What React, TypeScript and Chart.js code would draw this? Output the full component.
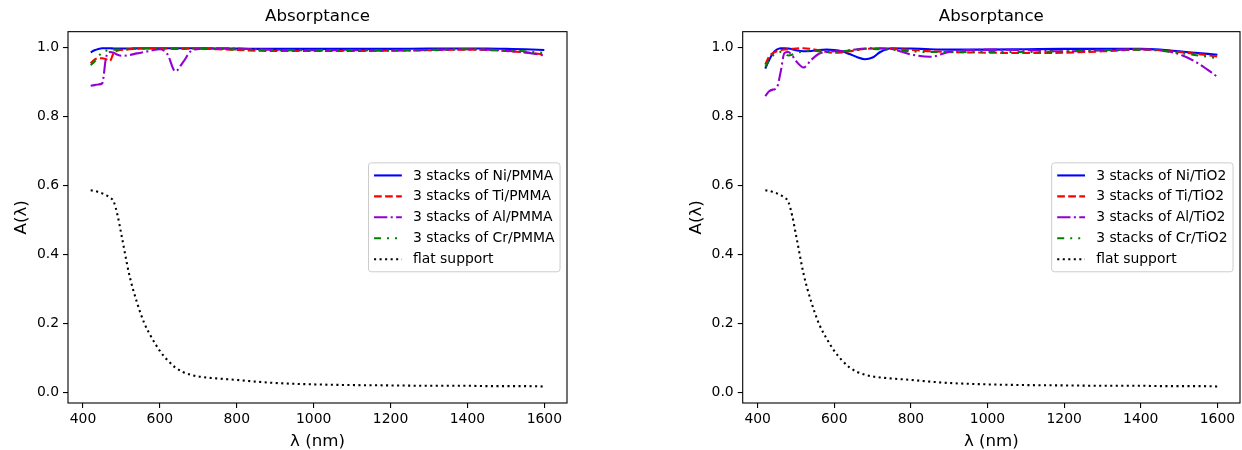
import React, { useEffect, useRef } from "react";
import { Chart, registerables } from "chart.js";

Chart.register(...registerables);

// ---------- data ----------
const wavelengths = [420, 430, 440, 450, 460, 470, 480, 490, 500, 520, 540, 560, 580, 600, 620, 640, 660, 680, 700, 720, 750, 800, 850, 900, 1000, 1100, 1200, 1300, 1400, 1450, 1500, 1550, 1600];

const flatSupport = [0.587, 0.585, 0.582, 0.578, 0.573, 0.566, 0.554, 0.514, 0.458, 0.344, 0.263, 0.2, 0.157, 0.121, 0.094, 0.073, 0.06, 0.052, 0.047, 0.044, 0.041, 0.037, 0.032, 0.028, 0.024, 0.022, 0.021, 0.02, 0.02, 0.019, 0.019, 0.019, 0.018];

const niPmma = [0.987, 0.993, 0.997, 0.999, 0.999, 0.999, 0.998, 0.998, 0.998, 0.998, 0.999, 0.999, 0.999, 0.999, 0.999, 0.999, 0.999, 0.999, 0.999, 0.999, 0.998, 0.998, 0.997, 0.997, 0.997, 0.997, 0.997, 0.998, 0.998, 0.998, 0.997, 0.996, 0.994];
const tiPmma = [0.955, 0.966, 0.97, 0.97, 0.967, 0.962, 0.986, 0.992, 0.994, 0.996, 0.997, 0.998, 0.998, 0.998, 0.998, 0.997, 0.997, 0.998, 0.998, 0.997, 0.996, 0.994, 0.992, 0.991, 0.991, 0.991, 0.992, 0.993, 0.995, 0.994, 0.991, 0.987, 0.981];
const alPmma = [0.89, 0.892, 0.894, 0.897, 0.972, 0.988, 0.986, 0.98, 0.977, 0.979, 0.984, 0.988, 0.993, 0.996, 0.981, 0.932, 0.958, 0.99, 0.997, 0.999, 0.999, 0.998, 0.996, 0.994, 0.993, 0.993, 0.992, 0.994, 0.996, 0.995, 0.992, 0.987, 0.978];
const crPmma = [0.95, 0.96, 0.975, 0.988, 0.992, 0.994, 0.995, 0.995, 0.995, 0.996, 0.997, 0.998, 0.998, 0.998, 0.998, 0.998, 0.998, 0.998, 0.998, 0.997, 0.997, 0.995, 0.994, 0.993, 0.993, 0.993, 0.993, 0.994, 0.996, 0.995, 0.993, 0.99, 0.985];

const niTio2 = [0.94, 0.965, 0.985, 0.995, 0.999, 0.999, 0.998, 0.996, 0.993, 0.99, 0.991, 0.994, 0.995, 0.994, 0.99, 0.982, 0.973, 0.967, 0.972, 0.988, 0.999, 0.998, 0.996, 0.995, 0.995, 0.996, 0.997, 0.997, 0.997, 0.995, 0.99, 0.985, 0.98];
const tiTio2 = [0.952, 0.975, 0.985, 0.99, 0.993, 0.995, 0.996, 0.997, 0.998, 0.999, 0.997, 0.993, 0.988, 0.986, 0.987, 0.99, 0.994, 0.997, 0.998, 0.998, 0.997, 0.994, 0.99, 0.988, 0.986, 0.985, 0.986, 0.99, 0.995, 0.993, 0.988, 0.982, 0.975];
const alTio2 = [0.86, 0.874, 0.879, 0.884, 0.93, 0.985, 0.988, 0.978, 0.962, 0.943, 0.965, 0.983, 0.988, 0.99, 0.99, 0.993, 0.996, 0.998, 0.999, 0.999, 0.997, 0.981, 0.974, 0.988, 0.995, 0.993, 0.99, 0.993, 0.996, 0.993, 0.982, 0.955, 0.916];
const crTio2 = [0.945, 0.965, 0.978, 0.985, 0.988, 0.985, 0.978, 0.98, 0.985, 0.99, 0.992, 0.99, 0.988, 0.988, 0.99, 0.992, 0.995, 0.997, 0.997, 0.996, 0.995, 0.99, 0.988, 0.988, 0.988, 0.988, 0.99, 0.993, 0.995, 0.992, 0.985, 0.978, 0.97];

const labelsPmma = ["3 stacks of Ni/PMMA", "3 stacks of Ti/PMMA", "3 stacks of Al/PMMA", "3 stacks of Cr/PMMA", "flat support"];
const labelsTio2 = ["3 stacks of Ni/TiO2", "3 stacks of Ti/TiO2", "3 stacks of Al/TiO2", "3 stacks of Cr/TiO2", "flat support"];

const xTicks = [400, 600, 800, 1000, 1200, 1400, 1600];
const yTicks = [0.0, 0.2, 0.4, 0.6, 0.8, 1.0];

const chartTitle = "Absorptance";
const xLabel = "λ (nm)";
const yLabel = "A(λ)";

// ---------- styles ----------
const FONT = "'DejaVu Sans', 'Liberation Sans', sans-serif";
const LW = 2.08;
const lineColors = ["#0000ff", "#ff0000", "#9400d3", "#008000", "#000000"];
const lineDashes: number[][] = [[], [7.7, 3.33], [13.3, 3.33, 2.08, 3.33], [7, 6, 2, 6, 2, 6], [2.08, 3.44]];

const frameAndLegend = {
  id: "frameAndLegend",
  afterDatasetsDraw(chart: any) {
    const ctx = chart.ctx as CanvasRenderingContext2D;
    const area = chart.chartArea;
    ctx.save();
    // frame (spines)
    ctx.strokeStyle = "#000";
    ctx.lineWidth = 1.1;
    ctx.setLineDash([]);
    ctx.strokeRect(area.left, area.top, area.right - area.left, area.bottom - area.top);

    // legend
    const fs = 13.9;
    ctx.font = `${fs}px ${FONT}`;
    const ds = chart.data.datasets;
    const pad = 0.4 * fs;
    const handle = 2 * fs;
    const htp = 0.8 * fs;
    const spacing = 0.5 * fs;
    const rowH = 14.0;
    const maxW = Math.max(...ds.map((d: any) => ctx.measureText(d.label).width));
    const w = 2 * pad + handle + htp + maxW;
    const h = 2 * pad + ds.length * rowH + (ds.length - 1) * spacing;
    const right = area.right - 0.5 * fs;
    const left = right - w;
    const top = (area.top + area.bottom) / 2 - h / 2;
    ctx.beginPath();
    (ctx as any).roundRect(left, top, w, h, 2.8);
    ctx.fillStyle = "rgba(255,255,255,0.8)";
    ctx.fill();
    ctx.strokeStyle = "#cccccc";
    ctx.lineWidth = 1;
    ctx.stroke();
    ds.forEach((d: any, i: number) => {
      const cy = top + pad + i * (rowH + spacing) + rowH / 2;
      ctx.beginPath();
      ctx.setLineDash(d.borderDash || []);
      ctx.strokeStyle = d.borderColor;
      ctx.lineWidth = d.borderWidth;
      ctx.lineCap = "butt";
      ctx.moveTo(left + pad, cy);
      ctx.lineTo(left + pad + handle, cy);
      ctx.stroke();
      ctx.setLineDash([]);
      ctx.fillStyle = "#000";
      ctx.textBaseline = "middle";
      ctx.textAlign = "left";
      ctx.fillText(d.label, left + pad + handle + htp, cy + 0.5);
    });
    ctx.restore();
  },
};

function AbsorptanceChart(props: { series: number[][]; labels: string[]; padLeft: number; padRight: number }) {
  const ref = useRef<HTMLCanvasElement>(null);
  useEffect(() => {
    const n = props.series.length;
    const datasets = props.series.map((s, i) => ({
      label: props.labels[i],
      data: wavelengths.map((x, j) => ({ x, y: s[j] })),
      borderColor: lineColors[i],
      backgroundColor: lineColors[i],
      borderWidth: LW,
      borderDash: lineDashes[i],
      pointRadius: 0,
      fill: false,
      cubicInterpolationMode: "monotone" as const,
      order: n - i,
    }));
    const tickFont = { family: FONT, size: 13.9 };
    const labelFont = { family: FONT, size: 16.67, lineHeight: 1.0 };
    const chart = new Chart(ref.current as HTMLCanvasElement, {
      type: "line",
      data: { datasets },
      options: {
        animation: false,
        responsive: false,
        devicePixelRatio: 1,
        layout: { padding: { left: props.padLeft, right: props.padRight, top: 0, bottom: 0 } },
        plugins: {
          legend: { display: false },
          tooltip: { enabled: false },
          title: {
            display: true,
            text: chartTitle,
            color: "#000",
            fullSize: false,
            font: { family: FONT, size: 16.67, weight: "normal", lineHeight: 1.2 },
            padding: { top: 7, bottom: 4.66 },
          },
        },
        scales: {
          x: {
            type: "linear",
            min: 361,
            max: 1659,
            border: { display: false },
            grid: { drawOnChartArea: false, drawTicks: true, tickLength: 5, tickColor: "#000", lineWidth: 1.1 },
            ticks: { color: "#000", font: tickFont, padding: 3, maxRotation: 0, autoSkip: false, callback: (v: any) => String(v) },
            afterBuildTicks: (scale: any) => {
              scale.ticks = xTicks.map((v) => ({ value: v }));
            },
            afterFit: (scale: any) => {
              scale.height = 47;
            },
            title: { display: true, text: xLabel, color: "#000", font: labelFont, padding: { top: 0.7, bottom: 0 } },
          },
          y: {
            type: "linear",
            min: -0.03,
            max: 1.047,
            border: { display: false },
            grid: { drawOnChartArea: false, drawTicks: true, tickLength: 5, tickColor: "#000", lineWidth: 1.1 },
            ticks: {
              color: "#000",
              font: tickFont,
              padding: 4,
              autoSkip: false,
              callback: (v: any) => Number(v).toFixed(1),
            },
            afterBuildTicks: (scale: any) => {
              scale.ticks = yTicks.map((v) => ({ value: v }));
            },
            afterFit: (scale: any) => {
              scale.width = 68;
            },
            title: { display: true, text: yLabel, color: "#000", font: { family: FONT, size: 16.67, lineHeight: 1.2 }, padding: { top: 11.5, bottom: 0 } },
          },
        },
      } as any,
      plugins: [frameAndLegend],
    });
    return () => chart.destroy();
  }, []);
  return <canvas ref={ref} width={621} height={450} style={{ display: "block", width: 621, height: 450 }} />;
}

export default function App() {
  return (
    <div style={{ position: "fixed", left: 0, top: 0, width: 1242, height: 450, background: "#fff" }}>
      <div style={{ position: "absolute", left: 0, top: 0, width: 621, height: 450 }}>
        <AbsorptanceChart series={[niPmma, tiPmma, alPmma, crPmma, flatSupport]} labels={labelsPmma} padLeft={0} padRight={54} />
      </div>
      <div style={{ position: "absolute", left: 621, top: 0, width: 621, height: 450 }}>
        <AbsorptanceChart series={[niTio2, tiTio2, alTio2, crTio2, flatSupport]} labels={labelsTio2} padLeft={53.7} padRight={2} />
      </div>
    </div>
  );
}
